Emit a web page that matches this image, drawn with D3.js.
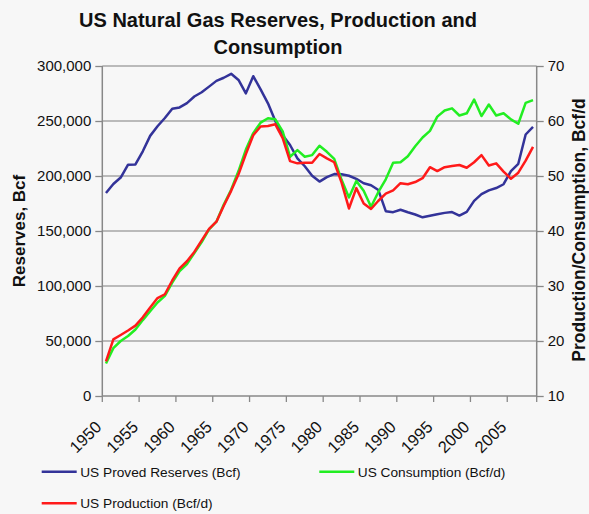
<!DOCTYPE html>
<html>
<head>
<meta charset="utf-8">
<script src="https://cdn.jsdelivr.net/npm/d3@7"></script>
<style>
  html, body { margin: 0; padding: 0; background: #f7f7f7; }
  svg { display: block; }
  text { font-family: "Liberation Sans", Arial, sans-serif; }
</style>
</head>
<body>
<svg id="chart" width="589" height="514"></svg>
<script>
// ---------------- DATA ----------------
const years = d3.range(1950, 2009);

const reserves = [184585, 192759, 198632, 210299, 210561, 222483, 236483, 245230, 252762, 261170,
  262326, 266274, 272279, 276151, 281251, 286469, 289333, 292908, 287350, 275109,
  290746, 278806, 266085, 249950, 237132, 228200, 216026, 208878, 200302, 194917,
  199021, 201730, 201512, 200247, 197463, 193369, 191586, 187211, 168024, 167116,
  169346, 167062, 165015, 162415, 163837, 165146, 166474, 167223, 164041, 167406,
  177427, 183460, 186946, 189044, 192513, 204385, 211085, 237726, 244656];

const production = [16.3, 20.3, 21.1, 21.9, 22.8, 24.3, 26.1, 27.8, 28.5, 31.0,
  33.2, 34.5, 36.2, 38.3, 40.4, 41.7, 44.6, 47.3, 50.3, 54.0,
  57.4, 59.0, 59.1, 59.4, 56.9, 52.7, 52.3, 52.4, 52.4, 54.0,
  53.2, 52.5, 48.8, 44.1, 47.8, 45.0, 44.0, 45.5, 46.8, 47.4,
  48.7, 48.5, 48.9, 49.6, 51.6, 50.9, 51.6, 51.8, 52.0, 51.5,
  52.5, 53.8, 51.9, 52.3, 50.8, 49.5, 50.6, 52.8, 55.3];

const consumption = [15.9, 18.7, 20.0, 20.9, 22.1, 23.8, 25.4, 27.0, 28.2, 30.6,
  32.7, 34.0, 36.0, 38.0, 40.3, 41.7, 44.8, 47.5, 50.9, 54.8,
  57.8, 59.7, 60.5, 60.3, 58.1, 53.5, 54.7, 53.5, 53.8, 55.5,
  54.4, 53.1, 49.3, 46.1, 49.1, 47.3, 44.4, 47.1, 49.4, 52.4,
  52.5, 53.6, 55.4, 57.0, 58.2, 60.8, 61.9, 62.3, 61.0, 61.4,
  63.9, 60.9, 63.0, 61.0, 61.4, 60.3, 59.5, 63.3, 63.8];

const leftTicks = [0, 50000, 100000, 150000, 200000, 250000, 300000];
const rightTicks = [10, 20, 30, 40, 50, 60, 70];
const xLabelYears = [1950, 1955, 1960, 1965, 1970, 1975, 1980, 1985, 1990, 1995, 2000, 2005];

const titleLines = ["US Natural Gas Reserves, Production and", "Consumption"];
const leftTitle = "Reserves, Bcf";
const rightTitle = "Production/Consumption, Bcf/d";
const seriesNames = ["US Proved Reserves (Bcf)", "US Consumption (Bcf/d)", "US Production (Bcf/d)"];
const seriesColors = ["#333399", "#22ee22", "#ff1a1a"];

// ---------------- LAYOUT ----------------
const plotL = 102.3, plotR = 536.7, plotT = 66, plotB = 396;
const svg = d3.select("#chart");
svg.append("rect").attr("width", 589).attr("height", 514).attr("fill", "#f7f7f7");

const x = d3.scaleBand().domain(years).range([plotL, plotR]).padding(0);
const bw = x.bandwidth();
const yL = d3.scaleLinear().domain([0, 300000]).range([plotB, plotT]);
const yR = d3.scaleLinear().domain([10, 70]).range([plotB, plotT]);

// gridlines
svg.append("g").selectAll("line").data(leftTicks.filter(d => d > 0)).join("line")
  .attr("x1", plotL).attr("x2", plotR)
  .attr("y1", d => yL(d)).attr("y2", d => yL(d))
  .attr("stroke", "#a6a6a6").attr("stroke-width", 1.5);

// left axis
const gL = svg.append("g").attr("transform", `translate(${plotL},0)`)
  .call(d3.axisLeft(yL).tickValues(leftTicks).tickSize(7).tickPadding(4).tickFormat(d3.format(",")));
gL.select(".domain").remove();
gL.selectAll(".tick line").attr("stroke", "#888").attr("stroke-width", 1.3);
gL.selectAll(".tick text").attr("font-size", 15).attr("fill", "#111")
  .style("font-family", "'Liberation Sans', Arial, sans-serif");

// right axis
const gR = svg.append("g").attr("transform", `translate(${plotR},0)`)
  .call(d3.axisRight(yR).tickValues(rightTicks).tickSize(7).tickPadding(4));
gR.select(".domain").remove();
gR.selectAll(".tick line").attr("stroke", "#888").attr("stroke-width", 1.3);
gR.selectAll(".tick text").attr("font-size", 15).attr("fill", "#111")
  .style("font-family", "'Liberation Sans', Arial, sans-serif");

// frame lines
svg.append("line").attr("x1", plotL).attr("x2", plotL).attr("y1", plotT).attr("y2", plotB)
  .attr("stroke", "#888").attr("stroke-width", 1.5);
svg.append("line").attr("x1", plotR).attr("x2", plotR).attr("y1", plotT).attr("y2", plotB)
  .attr("stroke", "#888").attr("stroke-width", 1.5);
svg.append("line").attr("x1", plotL).attr("x2", plotR).attr("y1", plotB).attr("y2", plotB)
  .attr("stroke", "#888").attr("stroke-width", 1.5);

// x ticks at category boundaries every 5 years
const bounds = xLabelYears.map(y => x(y)).concat([plotR]);
svg.append("g").selectAll("line").data(bounds).join("line")
  .attr("x1", d => d).attr("x2", d => d).attr("y1", plotB).attr("y2", plotB + 6)
  .attr("stroke", "#888").attr("stroke-width", 1.3);

// x labels rotated
svg.append("g").selectAll("text").data(xLabelYears).join("text")
  .attr("transform", d => `translate(${x(d) + bw / 2 - 3.5},${428}) rotate(-45)`)
  .attr("text-anchor", "end")
  .attr("font-size", 16.5).attr("fill", "#111")
  .text(d => d);

// lines
const lineL = d3.line().x((d, i) => x(years[i]) + bw / 2).y(d => yL(d));
const lineR = d3.line().x((d, i) => x(years[i]) + bw / 2).y(d => yR(d));
const seriesData = [
  { vals: reserves, gen: lineL, color: seriesColors[0] },
  { vals: consumption, gen: lineR, color: seriesColors[1] },
  { vals: production, gen: lineR, color: seriesColors[2] }
];
svg.append("g").selectAll("path").data(seriesData).join("path")
  .attr("d", d => d.gen(d.vals))
  .attr("fill", "none").attr("stroke", d => d.color)
  .attr("stroke-width", 2.5).attr("stroke-linejoin", "round");

// titles
svg.append("g").selectAll("text").data(titleLines).join("text")
  .attr("x", 278).attr("y", (d, i) => 27 + i * 27)
  .attr("text-anchor", "middle").attr("font-size", 20).attr("font-weight", "bold")
  .attr("fill", "#111").text(d => d);

svg.append("text").attr("transform", "translate(25,231) rotate(-90)")
  .attr("text-anchor", "middle").attr("font-size", 17).attr("font-weight", "bold")
  .attr("fill", "#111").text(leftTitle);
svg.append("text").attr("transform", "translate(585,230) rotate(-90)")
  .attr("text-anchor", "middle").attr("font-size", 17.5).attr("font-weight", "bold")
  .attr("fill", "#111").text(rightTitle);

// legend
const legendItems = [
  { name: seriesNames[0], color: seriesColors[0], lx: 41.7, ly: 471.7 },
  { name: seriesNames[1], color: seriesColors[1], lx: 319.3, ly: 471.7 },
  { name: seriesNames[2], color: seriesColors[2], lx: 41.7, ly: 503.3 }
];
const lg = svg.append("g").selectAll("g").data(legendItems).join("g");
lg.append("line").attr("x1", d => d.lx).attr("x2", d => d.lx + 35)
  .attr("y1", d => d.ly).attr("y2", d => d.ly)
  .attr("stroke", d => d.color).attr("stroke-width", 2.5);
lg.append("text").attr("x", d => d.lx + 38.5).attr("y", d => d.ly + 5)
  .attr("font-size", 13.7).attr("fill", "#111").text(d => d.name);
</script>
</body>
</html>
